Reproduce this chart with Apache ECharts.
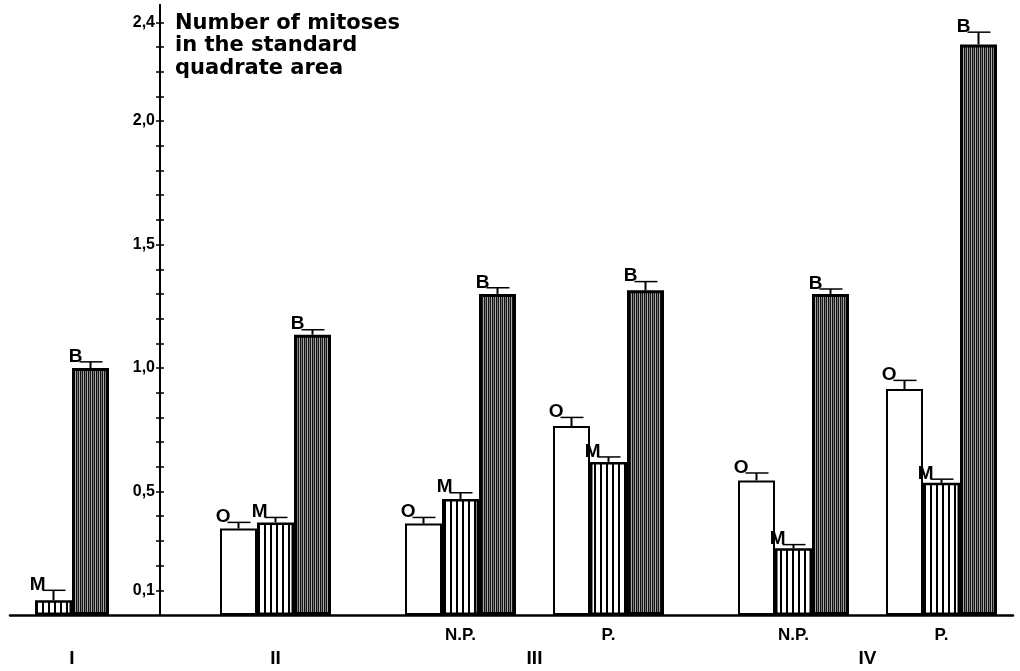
<!DOCTYPE html>
<html>
<head>
<meta charset="utf-8">
<script src="https://cdn.jsdelivr.net/npm/echarts@6/dist/echarts.min.js"></script>
<style>
  html, body { margin: 0; padding: 0; background: #fff; }
  #chart { width: 1020px; height: 671px; }
</style>
</head>
<body>
<div id="chart"></div>
<script>
// groups, left to right; O bar slot is groupSlot, M is +1, B is +2
var groups = ['I', 'II', 'III N.P.', 'III P.', 'IV N.P.', 'IV P.'];
var groupSlot = [0, 6, 11, 15, 20, 24];

var oValues = [null, 0.35, 0.37, 0.765, 0.545, 0.915];
var oErrors = [null, 0.025, 0.025, 0.035, 0.03, 0.035];
var mValues = [0.06, 0.375, 0.47, 0.62, 0.27, 0.535];
var mErrors = [0.04, 0.02, 0.025, 0.02, 0.015, 0.015];
var bValues = [1.0, 1.135, 1.30, 1.315, 1.30, 2.31];
var bErrors = [0.025, 0.02, 0.025, 0.035, 0.02, 0.05];

var subLabels = ['N.P.', 'P.', 'N.P.', 'P.'];
var romanLabels = ['I', 'II', 'III', 'IV'];
var romanPos = [2, 7.5, 14.5, 23.5];

var yTicks = [0.1, 0.2, 0.3, 0.4, 0.5, 0.6, 0.7, 0.8, 0.9, 1.0, 1.1, 1.2,
  1.3, 1.4, 1.5, 1.6, 1.7, 1.8, 1.9, 2.0, 2.1, 2.2, 2.3, 2.4];
var yLabels = [0.1, 0.5, 1.0, 1.5, 2.0, 2.4];

var title = 'Number of mitoses\nin the standard\nquadrate area';

// layout
var SLOT = 37;       // px per bar
var SLOT0 = -2;      // px of slot 0 left edge
var gridLeft = 10, gridRight = 7;
var xMin = (gridLeft - SLOT0) / SLOT;
var xMax = (1020 - gridRight - SLOT0) / SLOT;

var subPos = groupSlot.slice(2).map(function (s) { return s + 1.5; });

function stripes(period, cols) {
  var c = document.createElement('canvas');
  c.width = period; c.height = 4;
  var ctx = c.getContext('2d');
  cols.forEach(function (col) {
    ctx.fillStyle = col[0];
    ctx.fillRect(col[1], 0, col[2], 4);
  });
  return { image: c, repeat: 'repeat' };
}
var mFill = stripes(6, [['#fff', 0, 6], ['#000', 0, 2]]);
var bFill = stripes(4, [['#111', 0, 1], ['#777', 1, 1], ['#1a1a1a', 2, 1], ['#aaa', 3, 1]]);

function barData(values, k) {
  var out = [];
  values.forEach(function (v, i) {
    if (v != null) out.push([groupSlot[i] + k + 0.5, v]);
  });
  return out;
}
function errData(values, errors, k) {
  var out = [];
  values.forEach(function (v, i) {
    if (v != null) out.push([groupSlot[i] + k + 0.5, v, errors[i]]);
  });
  return out;
}

function errSeries(letter, values, errors, k) {
  return {
    type: 'custom',
    name: letter + ' err',
    data: errData(values, errors, k),
    encode: { x: 0, y: 1 },
    z: 5,
    renderItem: function (params, api) {
      var x = api.value(0), v = api.value(1), e = api.value(2);
      var base = api.coord([x, v]);
      var tip = api.coord([x, v + e]);
      return {
        type: 'group',
        children: [
          { type: 'line', shape: { x1: base[0], y1: base[1], x2: tip[0], y2: tip[1] },
            style: { stroke: '#000', lineWidth: 2 } },
          { type: 'line', shape: { x1: tip[0] - 11, y1: tip[1], x2: tip[0] + 12, y2: tip[1] },
            style: { stroke: '#000', lineWidth: 1.5 } },
          { type: 'text', x: tip[0] - 8, y: tip[1] + 4,
            style: { text: letter, align: 'right', verticalAlign: 'bottom',
              font: 'bold 19px "Liberation Sans", Arial, sans-serif', fill: '#000' } }
        ]
      };
    }
  };
}

var chart = echarts.init(document.getElementById('chart'), null, { renderer: 'canvas' });

var yAxisBase = {
  type: 'value',
  min: 0,
  max: 2.47,
  position: 'left',
  offset: -150,
  splitLine: { show: false },
  axisLine: { show: true, onZero: false, lineStyle: { color: '#000', width: 2 } }
};

chart.setOption({
  animation: false,
  backgroundColor: '#fff',
  title: {
    text: title,
    left: 170,
    top: 7,
    textStyle: {
      fontFamily: '"DejaVu Sans", sans-serif',
      fontSize: 21,
      fontWeight: 'bold',
      lineHeight: 22.5,
      color: '#000'
    }
  },
  grid: { left: gridLeft, right: gridRight, top: 5, bottom: 56, containLabel: false },
  xAxis: [{
    type: 'value',
    min: xMin,
    max: xMax,
    splitLine: { show: false },
    axisTick: { show: false },
    axisLine: { onZero: false, lineStyle: { color: '#000', width: 2.5 } },
    axisLabel: {
      customValues: subPos,
      margin: 12,
      color: '#000',
      fontFamily: '"Liberation Sans Narrow", "Liberation Sans", Arial, sans-serif',
      fontWeight: 'bold',
      fontSize: 17,
      formatter: function (v) {
        var i = subPos.indexOf(v);
        return i >= 0 ? subLabels[i] : '';
      }
    }
  }, {
    type: 'value',
    min: xMin,
    max: xMax,
    position: 'bottom',
    offset: 22,
    splitLine: { show: false },
    axisTick: { show: false },
    axisLine: { show: false, onZero: false },
    axisLabel: {
      customValues: romanPos,
      margin: 12,
      color: '#000',
      fontFamily: '"Liberation Sans Narrow", "Liberation Sans", Arial, sans-serif',
      fontWeight: 'bold',
      fontSize: 19,
      formatter: function (v) {
        var i = romanPos.indexOf(v);
        return i >= 0 ? romanLabels[i] : '';
      }
    }
  }],
  yAxis: [
    Object.assign({}, yAxisBase, {
      axisTick: { show: true, customValues: yTicks, length: 4, lineStyle: { color: '#000', width: 1.5 } },
      axisLabel: {
        customValues: yLabels,
        margin: 5,
        color: '#000',
        fontFamily: '"Liberation Sans Narrow", "Liberation Sans", Arial, sans-serif',
        fontWeight: 'bold',
        fontSize: 16,
        formatter: function (v) { return v.toFixed(1).replace('.', ','); }
      }
    }),
    Object.assign({}, yAxisBase, {
      axisTick: { show: true, inside: true, customValues: yTicks, length: 4, lineStyle: { color: '#000', width: 1.5 } },
      axisLabel: { show: false }
    })
  ],
  series: [
    {
      type: 'bar', name: 'O', data: barData(oValues, 0),
      barWidth: SLOT, barGap: '-100%',
      itemStyle: { color: '#fff', borderColor: '#000', borderWidth: 2 }
    },
    {
      type: 'bar', name: 'M', data: barData(mValues, 1),
      barWidth: SLOT, barGap: '-100%',
      itemStyle: { color: mFill, borderColor: '#000', borderWidth: 2.5 }
    },
    {
      type: 'bar', name: 'B', data: barData(bValues, 2),
      barWidth: SLOT, barGap: '-100%',
      itemStyle: { color: bFill, borderColor: '#000', borderWidth: 3 }
    },
    errSeries('O', oValues, oErrors, 0),
    errSeries('M', mValues, mErrors, 1),
    errSeries('B', bValues, bErrors, 2)
  ]
});
</script>
</body>
</html>
